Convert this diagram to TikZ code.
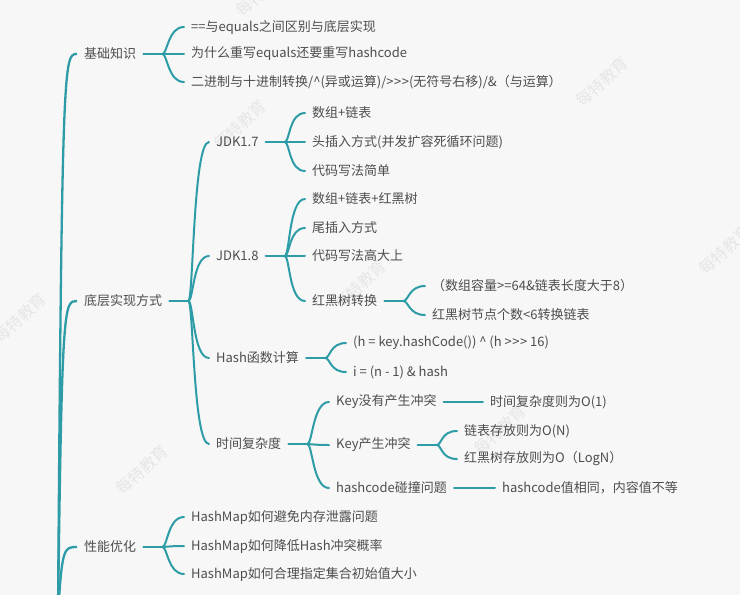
\documentclass[tikz,border=0pt]{standalone}
\usepackage{fontspec}
\setmainfont{Noto Sans CJK SC}
\usetikzlibrary{calc}
\definecolor{mmteal}{HTML}{2E9CA6}
\definecolor{mmink}{HTML}{4D4D4D}
\definecolor{mmbg}{HTML}{F7F7F7}
\definecolor{mmmark}{HTML}{E6E6E6}
\newcommand{\ushr}{>\kern0.5pt>\kern0.5pt>}

\begin{document}
\begin{tikzpicture}[
    x=1pt, y=-1pt,
    topic/.style={anchor=west, inner xsep=7pt, inner ysep=1pt, text=mmink,
                  font=\fontsize{13}{15}\selectfont},
    link/.style={draw=mmteal, line width=2pt, line cap=round},
    trunk/.style={draw=mmteal, line width=2.3pt},
    wmark/.style={text=mmmark, font=\fontsize{16}{18}\selectfont, rotate=42},
  ]

  % Background
  \fill[mmbg] (0,0) rectangle (740,595);
  \useasboundingbox (0,0) rectangle (740,595);
  \clip (0,0) rectangle (740,595);

  % Watermarks
  \foreach \p in {(262,-8),(240,125),(602,82),(360,285),(725,250),(20,318),(500,430),(142,470)}
    \node[wmark] at \p {每特教育};

  % === Level 1 ===
  \node[topic] (jc) at (77,54)  {基础知识};
  \node[topic] (dc) at (77,301) {底层实现方式};
  \node[topic] (xn) at (77,547) {性能优化};

  \coordinate (root) at (58,615);
  \foreach \t in {jc,dc,xn}
    \draw[trunk] (root) .. controls ($(\t.west)+(-15,0)$) and ($(\t.west)+(-13,0)$) .. (\t.west);

  % === 基础知识 ===
  \node[topic] (jc1) at (184,27) {==与equals之间区别与底层实现};
  \node[topic] (jc2) at (184,54) {为什么重写equals还要重写hashcode};
  \node[topic] (jc3) at (184,82) {二进制与十进制转换/\textasciicircum(异或运算)/\ushr(无符号右移)/\&（与运算）};

  \coordinate (jc-j) at ($(jc.east)+(19,0)$);
  \draw[link] (jc.east) -- (jc-j);
  \foreach \c in {jc1,jc2,jc3}
    \draw[link] (jc-j) .. controls +(5,0) and +(-16,0) .. (\c.west);

  % === 底层实现方式 ===
  \node[topic] (jdk7) at (209,142) {JDK1.7};
  \node[topic] (jdk8) at (209,256) {JDK1.8};
  \node[topic] (hs)   at (209,358) {Hash函数计算};
  \node[topic] (sj)   at (209,444) {时间复杂度};

  \coordinate (dc-j) at ($(dc.east)+(19,0)$);
  \draw[link] (dc.east) -- (dc-j);
  \foreach \c in {jdk7,jdk8,hs,sj}
    \draw[link] (dc-j) .. controls +(5,0) and +(-16,0) .. (\c.west);

  % JDK1.7
  \node[topic] (jdk7a) at (305,113) {数组+链表};
  \node[topic] (jdk7b) at (305,142) {头插入方式(并发扩容死循环问题)};
  \node[topic] (jdk7c) at (305,171) {代码写法简单};

  \coordinate (jdk7-j) at ($(jdk7.east)+(19,0)$);
  \draw[link] (jdk7.east) -- (jdk7-j);
  \foreach \c in {jdk7a,jdk7b,jdk7c}
    \draw[link] (jdk7-j) .. controls +(5,0) and +(-16,0) .. (\c.west);

  % JDK1.8
  \node[topic] (jdk8a) at (305,199) {数组+链表+红黑树};
  \node[topic] (jdk8b) at (305,228) {尾插入方式};
  \node[topic] (jdk8c) at (305,256) {代码写法高大上};
  \node[topic] (hhs)   at (305,301) {红黑树转换};

  \coordinate (jdk8-j) at ($(jdk8.east)+(19,0)$);
  \draw[link] (jdk8.east) -- (jdk8-j);
  \foreach \c in {jdk8a,jdk8b,jdk8c,hhs}
    \draw[link] (jdk8-j) .. controls +(5,0) and +(-16,0) .. (\c.west);

  % 红黑树转换
  \node[topic] (hhs1) at (425,286) {（数组容量>=64\&链表长度大于8）};
  \node[topic] (hhs2) at (425,315) {红黑树节点个数<6转换链表};

  \coordinate (hhs-j) at ($(hhs.east)+(19,0)$);
  \draw[link] (hhs.east) -- (hhs-j);
  \foreach \c in {hhs1,hhs2}
    \draw[link] (hhs-j) .. controls +(5,0) and +(-16,0) .. (\c.west);

  % Hash函数计算
  \node[topic] (hs1) at (346,343) {(h = key.hashCode()) \textasciicircum\ (h \ushr\ 16)};
  \node[topic] (hs2) at (346,372) {i = (n - 1) \& hash};

  \coordinate (hs-j) at ($(hs.east)+(19,0)$);
  \draw[link] (hs.east) -- (hs-j);
  \foreach \c in {hs1,hs2}
    \draw[link] (hs-j) .. controls +(5,0) and +(-16,0) .. (\c.west);

  % 时间复杂度
  \node[topic] (kn) at (329,402) {Key没有产生冲突};
  \node[topic] (ky) at (329,445) {Key产生冲突};
  \node[topic] (hc) at (329,488) {hashcode碰撞问题};

  \coordinate (sj-j) at ($(sj.east)+(19,0)$);
  \draw[link] (sj.east) -- (sj-j);
  \foreach \c in {kn,ky,hc}
    \draw[link] (sj-j) .. controls +(5,0) and +(-16,0) .. (\c.west);

  \node[topic] (kn1) at (483,402) {时间复杂度则为O(1)};
  \draw[link] (kn.east) -- (kn1.west);

  \node[topic] (ky1) at (457,431) {链表存放则为O(N)};
  \node[topic] (ky2) at (457,459) {红黑树存放则为O（LogN）};

  \coordinate (ky-j) at ($(ky.east)+(19,0)$);
  \draw[link] (ky.east) -- (ky-j);
  \foreach \c in {ky1,ky2}
    \draw[link] (ky-j) .. controls +(5,0) and +(-16,0) .. (\c.west);

  \node[topic] (hc1) at (495,488) {hashcode值相同，内容值不等};
  \draw[link] (hc.east) -- (hc1.west);

  % === 性能优化 ===
  \node[topic] (xn1) at (184,517) {HashMap如何避免内存泄露问题};
  \node[topic] (xn2) at (184,546) {HashMap如何降低Hash冲突概率};
  \node[topic] (xn3) at (184,574) {HashMap如何合理指定集合初始值大小};

  \coordinate (xn-j) at ($(xn.east)+(19,0)$);
  \draw[link] (xn.east) -- (xn-j);
  \foreach \c in {xn1,xn2,xn3}
    \draw[link] (xn-j) .. controls +(5,0) and +(-16,0) .. (\c.west);

\end{tikzpicture}
\end{document}
